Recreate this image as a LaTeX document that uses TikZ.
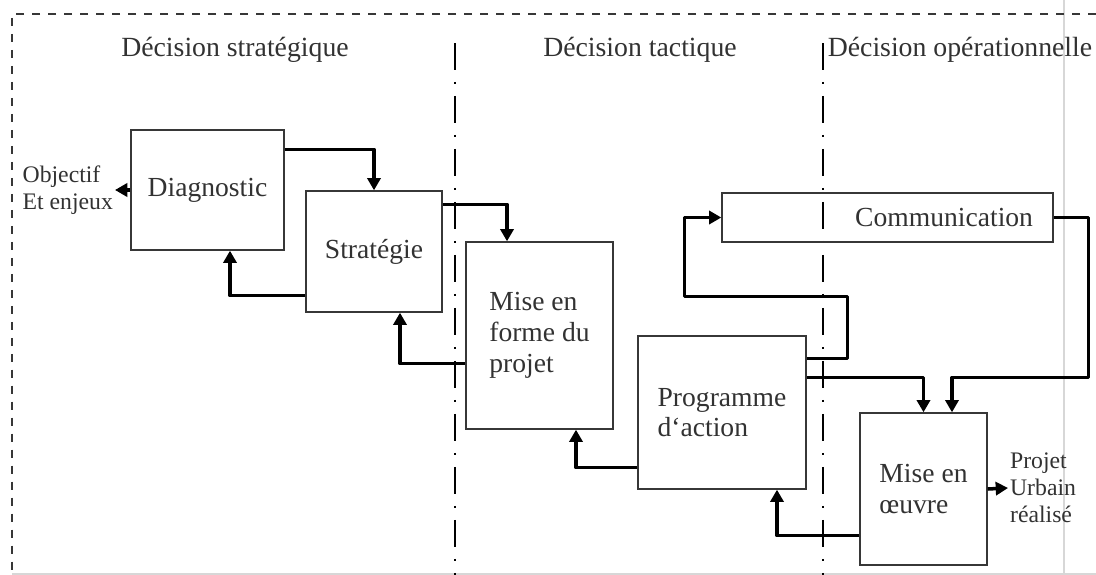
\documentclass[tikz,border=0pt]{standalone}
\usepackage{fontspec}
\setmainfont{Liberation Serif}
\usepackage{tikz}
\usetikzlibrary{arrows.meta}
\definecolor{ink}{RGB}{50,50,50}
\definecolor{frame}{RGB}{55,55,55}
\definecolor{scanline}{RGB}{215,215,215}

\begin{document}
\begin{tikzpicture}[x=0.02cm, y=-0.02cm,
		block/.style={draw=frame, line width=0.8pt, inner sep=0pt, text=ink, align=left,
		              font=\fontsize{15.7}{17.5}\selectfont},
		flow/.style={line width=2pt, line join=round, -{Triangle[length=7pt, width=7.5pt]}},
		note/.style={font=\fontsize{13.5}{15.5}\selectfont, text=ink, align=left, inner sep=1pt},
		phase/.style={font=\fontsize{15.8}{17.5}\selectfont, text=ink},
		divider/.style={line width=0.9pt, dash pattern=on 0.54cm off 0.24cm on 0.04cm off 0.24cm}]
	\useasboundingbox (0,0) rectangle (1096,575);
	\draw[scanline, line width=0.6pt] (1064,0) -- (1064,575);
	\draw[frame, line width=1pt, dash pattern=on 0.16cm off 0.16cm] (1096,14) -- (12,14) -- (12,575);
	\draw[scanline, line width=0.8pt] (12,574) -- (1096,574);
	\foreach \xd in {455, 823}
		\draw[divider] (\xd,43) -- (\xd,575);
	\foreach \xl/\tl in {235/{Décision stratégique}, 640/{Décision tactique}, 960/{Décision opérationnelle}}
		\node[phase] (phase-\xl) at (\xl, 50) {\tl};
	\node[block, minimum width=3.06cm, minimum height=2.4cm] (diag) at (207.5, 190) {Diagnostic};
	\node[block, minimum width=2.72cm, minimum height=2.42cm] (strat) at (374, 251.5) {Stratégie};
	\node[block, minimum width=2.94cm, minimum height=3.74cm] (forme) at (539.5, 335.5) {Mise en\\forme du\\projet};
	\node[block, minimum width=3.36cm, minimum height=3.06cm] (prog) at (722, 412.5) {Programme\\d`action};
	\node[block, minimum width=2.54cm, minimum height=3.04cm] (oeuvre) at (923.5, 489) {Mise en\\œuvre};
	\node[block, minimum height=0.98cm, text width=5.82cm, inner xsep=0.4cm, align=right] (comm) at (887.5, 217.5) {Communication};
	\node[note, anchor=east] (obj) at (115, 190) {Objectif\\Et enjeux};
	\node[note, anchor=west] (projet) at (1008, 488) {Projet\\Urbain\\réalisé};
	\draw[flow] (diag.west) -- (obj.east);
	\draw[flow] ([yshift=-0.4cm]diag.north east) -| (strat.north);
	\draw[flow] ([yshift=0.34cm]strat.south west) -| ([xshift=0.45cm]diag.south);
	\draw[flow] ([yshift=-0.28cm]strat.north east) -| ([xshift=-0.65cm]forme.north);
	\draw[flow] ([yshift=1.32cm]forme.south west) -| ([xshift=0.52cm]strat.south);
	\draw[flow] ([yshift=0.44cm]prog.south west) -| ([xshift=0.73cm]forme.south);
	\draw[flow] ([yshift=0.6cm]oeuvre.south west) -| ([xshift=1.1cm]prog.south);
	\draw[flow] ([yshift=-0.46cm]prog.north east) -| ++(0.82cm,1.24cm) -| ([xshift=-0.74cm]comm.west) -- (comm.west);
	\draw[flow] ([yshift=-0.84cm]prog.north east) -| (oeuvre.north);
	\draw[flow] (comm.east) -- ++(0.7cm,0) -- ++(0,-3.2cm) -| ([xshift=0.57cm]oeuvre.north);
	\draw[flow] (oeuvre.east) -- (projet.west);
\end{tikzpicture}
\end{document}
